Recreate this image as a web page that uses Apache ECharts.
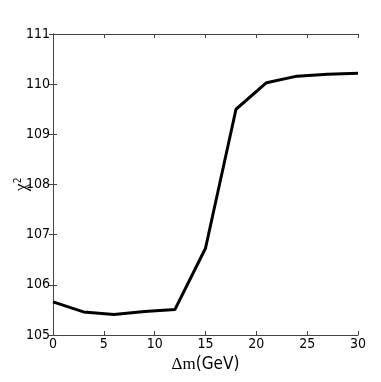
<!DOCTYPE html>
<html>
<head>
<meta charset="utf-8">
<script src="https://cdn.jsdelivr.net/npm/echarts@6/dist/echarts.min.js"></script>
<style>
  html, body { margin: 0; padding: 0; background: #fff; }
  #chart { width: 381px; height: 382px; }
</style>
</head>
<body>
<div id="chart"></div>
<script>
const deltaM = [0, 3, 6, 9, 12, 15, 18, 21, 24, 27, 30];
const chi2 = [105.66, 105.46, 105.41, 105.47, 105.51, 106.73, 109.5, 110.03, 110.16, 110.2, 110.22];

const chart = echarts.init(document.getElementById('chart'));

const narrow = "'Liberation Sans Narrow', 'DejaVu Sans Condensed', sans-serif";
const frame = { show: true, lineStyle: { color: '#444', width: 1 } };
const inTick = { show: true, inside: true, length: 4, lineStyle: { color: '#444' } };
const labelFont = { color: '#000', fontSize: 14, fontFamily: narrow };

chart.setOption({
  animation: false,
  grid: { left: 53, top: 34, right: 23, bottom: 47, outerBoundsMode: 'none', containLabel: false },
  xAxis: [
    {
      type: 'value', min: 0, max: 30, interval: 5,
      name: '{s|Δm}{n|(GeV)}', nameLocation: 'middle', nameGap: 19,
      nameTextStyle: {
        color: '#000',
        rich: {
          s: { fontSize: 17, fontFamily: 'Liberation Serif', color: '#000' },
          n: { fontSize: 17, fontFamily: narrow, color: '#000' }
        }
      },
      axisLine: frame, axisTick: inTick, splitLine: { show: false },
      axisLabel: Object.assign({ margin: 2 }, labelFont)
    },
    {
      type: 'value', position: 'top', min: 0, max: 30, interval: 5,
      axisLine: frame, axisTick: inTick, splitLine: { show: false },
      axisLabel: { show: false }
    }
  ],
  yAxis: [
    {
      type: 'value', min: 105, max: 111, interval: 1,
      name: '{c|χ}{p|2}', nameLocation: 'middle', nameGap: 22, nameRotate: 90,
      nameMoveOverlap: false,
      nameTextStyle: {
        color: '#000',
        rich: {
          c: { fontSize: 18, fontFamily: 'Liberation Serif', color: '#000' },
          p: { fontSize: 10, fontFamily: narrow, color: '#000', verticalAlign: 'top', padding: [0, 0, 8, 0] }
        }
      },
      axisLine: frame, axisTick: inTick, splitLine: { show: false },
      axisLabel: Object.assign({ margin: 3 }, labelFont)
    },
    {
      type: 'value', position: 'right', min: 105, max: 111, interval: 1,
      axisLine: frame, axisTick: inTick, splitLine: { show: false },
      axisLabel: { show: false }
    }
  ],
  series: [{
    type: 'line',
    data: deltaM.map((x, i) => [x, chi2[i]]),
    showSymbol: false,
    lineStyle: { color: '#000', width: 3 }
  }]
});
</script>
</body>
</html>
